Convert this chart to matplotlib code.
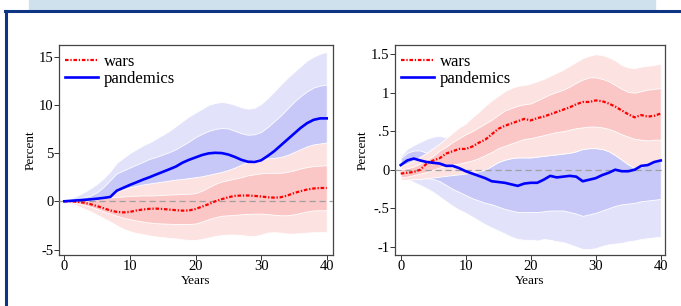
import numpy as np
import matplotlib
matplotlib.use('Agg')
import matplotlib.pyplot as plt
from matplotlib.patches import Rectangle
from matplotlib.lines import Line2D

plt.rcParams['font.family'] = ['Liberation Serif', 'DejaVu Serif']

years = list(range(41))

# ---- left panel ----
wars_l = [0, 0.0, -0.05, -0.15, -0.3, -0.5, -0.72, -0.95, -1.1, -1.15, -1.1,
          -0.95, -0.85, -0.78, -0.76, -0.8, -0.86, -0.92, -0.97, -0.95, -0.8,
          -0.55, -0.3, 0.0, 0.22, 0.42, 0.56, 0.6, 0.6, 0.56, 0.5,
          0.42, 0.38, 0.42, 0.6, 0.85, 1.05, 1.22, 1.33, 1.38, 1.38]
wars_l_hi68 = [0, 0.02, 0.05, 0.08, 0.12, 0.2, 0.3, 0.4, 0.45, 0.5, 0.55,
               0.58, 0.6, 0.6, 0.62, 0.65, 0.7, 0.72, 0.75, 0.78, 0.85,
               1.1, 1.45, 1.8, 2.05, 2.2, 2.35, 2.5, 2.7, 2.8, 2.9,
               2.95, 2.95, 2.95, 3.05, 3.2, 3.4, 3.55, 3.65, 3.7, 3.75]
wars_l_lo68 = [0, -0.1, -0.22, -0.38, -0.55, -0.8, -1.05, -1.28, -1.5, -1.7, -1.85,
               -2.0, -2.1, -2.2, -2.27, -2.3, -2.33, -2.35, -2.35, -2.35, -2.3,
               -2.1, -1.85, -1.65, -1.5, -1.45, -1.4, -1.35, -1.3, -1.28, -1.28,
               -1.32, -1.4, -1.45, -1.45, -1.35, -1.2, -1.05, -0.95, -0.93, -0.93]
wars_l_hi90 = [0, 0.05, 0.1, 0.15, 0.22, 0.3, 0.4, 0.55, 1.0, 1.25, 1.45,
               1.6, 1.75, 1.85, 1.95, 2.05, 2.15, 2.25, 2.32, 2.4, 2.5,
               2.6, 2.75, 2.9, 3.05, 3.25, 3.5, 3.8, 4.1, 4.3, 4.4,
               4.45, 4.5, 4.6, 4.8, 5.1, 5.4, 5.7, 5.9, 6.0, 6.1]
wars_l_lo90 = [0, -0.2, -0.45, -0.75, -1.05, -1.4, -1.75, -2.1, -2.5, -2.85, -3.1,
               -3.3, -3.4, -3.55, -3.65, -3.72, -3.8, -3.85, -3.95, -4.0, -4.0,
               -3.9, -3.75, -3.6, -3.5, -3.45, -3.45, -3.5, -3.6, -3.6, -3.45,
               -3.25, -3.2, -3.25, -3.35, -3.35, -3.3, -3.25, -3.2, -3.2, -3.2]

pand_l = [0, 0.05, 0.1, 0.15, 0.2, 0.27, 0.35, 0.45, 1.1, 1.4, 1.7,
          1.97, 2.25, 2.5, 2.78, 3.05, 3.32, 3.6, 4.0, 4.3, 4.55,
          4.8, 4.97, 5.03, 5.0, 4.85, 4.6, 4.3, 4.1, 4.08, 4.25,
          4.7, 5.2, 5.8, 6.4, 7.0, 7.6, 8.1, 8.45, 8.6, 8.6]
pand_l_hi68 = [0, 0.12, 0.25, 0.4, 0.6, 0.95, 1.5, 2.2, 2.9, 3.2, 3.5,
               3.8, 4.1, 4.4, 4.6, 4.85, 5.1, 5.4, 5.8, 6.2, 6.65,
               7.0, 7.3, 7.5, 7.6, 7.55, 7.3, 7.05, 6.9, 6.95, 7.2,
               7.7, 8.3, 8.9, 9.6, 10.3, 10.9, 11.4, 11.8, 12.0, 12.1]
pand_l_lo68 = [0, -0.02, -0.05, -0.1, -0.2, -0.4, -0.8, -1.3, -0.7, -0.4, -0.1,
               0.15, 0.4, 0.6, 0.95, 1.25, 1.55, 1.8, 2.2, 2.4, 2.45,
               2.5, 2.5, 2.5, 2.4, 2.15, 1.9, 1.55, 1.3, 1.2, 1.3,
               1.7, 2.1, 2.7, 3.2, 3.7, 4.3, 4.8, 5.1, 5.2, 5.1]
pand_l_hi90 = [0, 0.3, 0.6, 0.95, 1.35, 1.8, 2.4, 3.1, 4.0, 4.5, 5.0,
               5.4, 5.8, 6.1, 6.5, 6.9, 7.3, 7.8, 8.3, 8.8, 9.2,
               9.6, 10.0, 10.2, 10.3, 10.2, 10.0, 9.75, 9.6, 9.7, 10.1,
               10.7, 11.4, 12.1, 12.8, 13.4, 14.0, 14.6, 15.0, 15.3, 15.5]
pand_l_lo90 = [0, -0.2, -0.4, -0.65, -0.95, -1.25, -1.7, -2.0, -1.8, -1.7, -1.6,
               -1.45, -1.3, -1.1, -0.95, -0.8, -0.65, -0.6, -0.2, -0.1, 0.0,
               0.05, 0.0, -0.1, -0.3, -0.5, -0.8, -1.1, -1.4, -1.5, -1.6,
               -1.3, -1.0, -0.5, 0.0, 0.6, 1.2, 1.6, 1.9, 1.9, 1.7]

# ---- right panel ----
wars_r = [-0.05, -0.04, -0.03, 0.0, 0.08, 0.12, 0.15, 0.21, 0.24, 0.27, 0.27,
          0.3, 0.35, 0.39, 0.46, 0.53, 0.57, 0.6, 0.63, 0.66, 0.64,
          0.67, 0.69, 0.72, 0.75, 0.78, 0.81, 0.85, 0.88, 0.88, 0.9,
          0.89, 0.86, 0.82, 0.77, 0.72, 0.68, 0.71, 0.69, 0.7, 0.73]
wars_r_hi68 = [0.0, 0.02, 0.04, 0.08, 0.13, 0.18, 0.25, 0.3, 0.36, 0.41, 0.46,
               0.5, 0.55, 0.6, 0.65, 0.71, 0.77, 0.8, 0.83, 0.85, 0.86,
               0.9, 0.94, 0.98, 1.01, 1.04, 1.08, 1.13, 1.17, 1.2, 1.2,
               1.18, 1.15, 1.1, 1.05, 1.01, 1.0, 1.02, 1.04, 1.05, 1.06]
wars_r_lo68 = [-0.1, -0.09, -0.07, -0.05, -0.03, 0.0, 0.03, 0.05, 0.07, 0.08, 0.1,
               0.12, 0.15, 0.19, 0.23, 0.28, 0.31, 0.34, 0.37, 0.4, 0.41,
               0.43, 0.45, 0.47, 0.49, 0.5, 0.52, 0.54, 0.55, 0.56, 0.56,
               0.55, 0.53, 0.5, 0.46, 0.43, 0.4, 0.39, 0.38, 0.39, 0.39]
wars_r_hi90 = [0.05, 0.08, 0.12, 0.17, 0.22, 0.28, 0.34, 0.41, 0.48, 0.55, 0.6,
               0.68, 0.75, 0.83, 0.9, 0.96, 1.02, 1.06, 1.09, 1.1, 1.12,
               1.15, 1.18, 1.22, 1.26, 1.3, 1.35, 1.4, 1.45, 1.48, 1.5,
               1.49, 1.46, 1.42, 1.36, 1.33, 1.32, 1.34, 1.35, 1.36, 1.38]
wars_r_lo90 = [-0.13, -0.13, -0.12, -0.12, -0.11, -0.1, -0.09, -0.08, -0.07, -0.06, -0.05,
               -0.04, -0.02, 0.0, 0.05, 0.1, 0.13, 0.15, 0.16, 0.16, 0.16,
               0.17, 0.18, 0.19, 0.2, 0.21, 0.22, 0.24, 0.27, 0.28, 0.28,
               0.27, 0.24, 0.19, 0.13, 0.07, 0.02, 0.04, 0.07, 0.1, 0.12]

pand_r = [0.06, 0.12, 0.145, 0.12, 0.1, 0.09, 0.08, 0.05, 0.05, 0.02, -0.02,
          -0.05, -0.08, -0.11, -0.15, -0.16, -0.17, -0.19, -0.21, -0.18, -0.17,
          -0.17, -0.13, -0.08, -0.1, -0.09, -0.08, -0.09, -0.15, -0.13, -0.11,
          -0.07, -0.04, 0.0, -0.02, -0.02, 0.0, 0.05, 0.06, 0.1, 0.12]
pand_r_hi68 = [0.15, 0.22, 0.25, 0.25, 0.22, 0.2, 0.18, 0.15, 0.12, 0.1, 0.07,
               0.05, 0.03, 0.01, 0.05, 0.1, 0.13, 0.15, 0.16, 0.16, 0.16,
               0.17, 0.18, 0.19, 0.2, 0.21, 0.22, 0.24, 0.27, 0.28, 0.28,
               0.27, 0.24, 0.19, 0.13, 0.07, 0.02, 0.04, 0.07, 0.1, 0.12]
pand_r_lo68 = [-0.02, -0.05, -0.08, -0.1, -0.11, -0.12, -0.15, -0.2, -0.25, -0.29, -0.33,
               -0.37, -0.4, -0.43, -0.45, -0.48, -0.51, -0.53, -0.55, -0.55, -0.55,
               -0.55, -0.54, -0.53, -0.53, -0.53, -0.55, -0.57, -0.6, -0.58, -0.56,
               -0.53, -0.5, -0.47, -0.45, -0.44, -0.43, -0.41, -0.4, -0.39, -0.38]
pand_r_hi90 = [0.18, 0.27, 0.32, 0.36, 0.4, 0.43, 0.44, 0.42, 0.38, 0.35, 0.33,
               0.32, 0.32, 0.32, 0.32, 0.33, 0.35, 0.37, 0.4, 0.42, 0.44,
               0.45, 0.46, 0.48, 0.5, 0.52, 0.54, 0.56, 0.58, 0.58, 0.58,
               0.57, 0.54, 0.5, 0.45, 0.4, 0.36, 0.36, 0.37, 0.37, 0.38]
pand_r_lo90 = [-0.06, -0.11, -0.16, -0.2, -0.24, -0.29, -0.35, -0.41, -0.47, -0.52, -0.56,
               -0.61, -0.66, -0.71, -0.75, -0.79, -0.83, -0.87, -0.9, -0.91, -0.91,
               -0.92, -0.9, -0.91, -0.93, -0.94, -0.97, -1.0, -1.03, -1.03, -1.02,
               -0.99, -0.97, -0.96, -0.95, -0.93, -0.92, -0.9, -0.89, -0.88, -0.87]

BLUE_LIGHT = '#e2e2fb'
BLUE_DARK = '#c8c8f8'
RED_LIGHT = '#fde2e2'
RED_DARK = '#fbc6c6'
WAR_DASH = (1.6, 0.8, 0.6, 0.8)


def draw_panel(ax, wars, w68, w68l, w90, w90l, pand, p68, p68l, p90, p90l,
               lims, yticks, yticklabels, ylab_x):
    ax.fill_between(years, p90l, p90, color=BLUE_LIGHT, edgecolor='white', lw=0.6, zorder=1)
    ax.fill_between(years, p68l, p68, color=BLUE_DARK, edgecolor='white', lw=0.6, zorder=2)
    ax.fill_between(years, w90l, w90, color=RED_LIGHT, edgecolor='white', lw=0.6, zorder=3)
    ax.fill_between(years, w68l, w68, color=RED_DARK, edgecolor='white', lw=0.6, zorder=4)
    ax.axhline(0, color='#a0a0a0', lw=0.9, dashes=(5, 3), zorder=5)
    ax.plot(years, wars, color='#ff0000', lw=1.6, dashes=WAR_DASH, zorder=6)
    ax.plot(years, pand, color='#0000ff', lw=1.9, zorder=7)
    ax.set_xlim(lims[0])
    ax.set_ylim(lims[1])
    ax.set_xticks([0, 10, 20, 30, 40])
    ax.set_yticks(yticks)
    ax.set_yticklabels(yticklabels)
    ax.tick_params(direction='out', length=3.5, width=0.7, labelsize=10.5, color='#333333')
    ax.tick_params(axis='x', pad=0)
    ax.tick_params(axis='y', pad=0.5)
    for s in ax.spines.values():
        s.set_color('#444444')
        s.set_linewidth(0.9)
    ax.set_xlabel('Years', fontsize=9.5)
    ax.set_ylabel('Percent', fontsize=9.5)
    ax.xaxis.set_label_coords(0.5, -0.095)
    ax.yaxis.set_label_coords(ylab_x, 0.5)
    handles = [Line2D([], [], color='#ff0000', lw=1.6, dashes=WAR_DASH),
               Line2D([], [], color='#0000ff', lw=1.9)]
    ax.legend(handles, ['wars', 'pandemics'], loc='upper left', frameon=False,
              fontsize=12, handlelength=2.0, handletextpad=0.35, labelspacing=0.05,
              borderaxespad=0.0, borderpad=0.0, bbox_to_anchor=(0.022, 0.957))


fig = plt.figure(figsize=(6.81, 3.06), dpi=100)

# banner and frame
fig.patches.append(Rectangle((29 / 681, 1 - 10 / 306), (655 - 29) / 681, 10 / 306,
                             transform=fig.transFigure, color='#cfe1ec', zorder=0))
fig.lines.append(Line2D([5 / 681, 1], [1 - 11 / 306, 1 - 11 / 306],
                        transform=fig.transFigure, color='#0d3584', lw=2.2))
fig.lines.append(Line2D([6 / 681, 6 / 681], [0, 1 - 11 / 306],
                        transform=fig.transFigure, color='#0d3584', lw=2.2))

ax1 = fig.add_axes([59 / 681, 1 - 255 / 306, 274 / 681, 210 / 306])
ax2 = fig.add_axes([395 / 681, 1 - 255 / 306, 270 / 681, 210 / 306])

draw_panel(ax1, wars_l, wars_l_hi68, wars_l_lo68, wars_l_hi90, wars_l_lo90,
           pand_l, pand_l_hi68, pand_l_lo68, pand_l_hi90, pand_l_lo90,
           ((-0.81, 40.96), (-5.57, 16.21)), [-5, 0, 5, 10, 15],
           ['-5', '0', '5', '10', '15'], -0.08)
draw_panel(ax2, wars_r, wars_r_hi68, wars_r_lo68, wars_r_hi90, wars_r_lo90,
           pand_r, pand_r_hi68, pand_r_lo68, pand_r_hi90, pand_r_lo90,
           ((-0.88, 40.66), (-1.108, 1.62)), [-1, -0.5, 0, 0.5, 1, 1.5],
           ['-1', '-.5', '0', '.5', '1', '1.5'], -0.096)

fig.savefig('out.png', dpi=100)
